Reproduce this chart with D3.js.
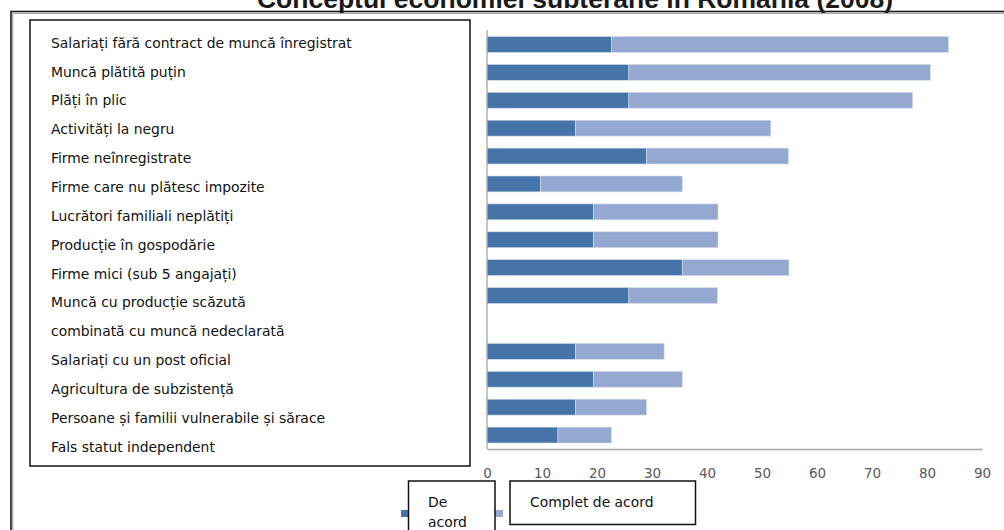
<!DOCTYPE html>
<html lang="ro">
<head>
  <meta charset="UTF-8">
  <title>Conceptul economiei subterane în România (2008)</title>
  <script src="https://d3js.org/d3.v7.min.js"></script>
  <style>
    body {
      margin: 0;
      overflow: hidden;
      background: white;
    }
  </style>
</head>
<body>
  <script>
    const width = 1004;
    const height = 530;

    // text lines shown in the box on the left
    const labelLines = [
      "Salariați fără contract de muncă înregistrat",
      "Muncă plătită puțin",
      "Plăți în plic",
      "Activități la negru",
      "Firme neînregistrate",
      "Firme care nu plătesc impozite",
      "Lucrători familiali neplătiți",
      "Producție în gospodărie",
      "Firme mici (sub 5 angajați)",
      "Muncă cu producție scăzută",
      "combinată cu muncă nedeclarată",
      "Salariați cu un post oficial",
      "Agricultura de subzistență",
      "Persoane și familii vulnerabile și sărace",
      "Fals statut independent"
    ];

    // one slot per bar; slot 11 is left empty in the original
    const categories = [
      "Salariați fără contract de muncă înregistrat",
      "Muncă plătită puțin",
      "Plăți în plic",
      "Activități la negru",
      "Firme neînregistrate",
      "Firme care nu plătesc impozite",
      "Lucrători familiali neplătiți",
      "Producție în gospodărie",
      "Firme mici (sub 5 angajați)",
      "Muncă cu producție scăzută combinată cu muncă nedeclarată",
      "",
      "Salariați cu un post oficial",
      "Agricultura de subzistență",
      "Persoane și familii vulnerabile și sărace",
      "Fals statut independent"
    ];

    const deAcord        = [22.6, 25.8, 25.8, 16.1, 29.0,  9.7, 19.4, 19.4, 35.5, 25.8, null, 16.1, 19.4, 16.1, 12.9];
    const completDeAcord = [61.3, 54.8, 51.6, 35.5, 25.8, 25.8, 22.6, 22.6, 19.4, 16.1, null, 16.1, 16.1, 12.9,  9.7];

    const seriesNames = ["De acord", "Complet de acord"];
    const xTicks = [0, 10, 20, 30, 40, 50, 60, 70, 80, 90];
    const title = "Conceptul economiei subterane în România (2008)";

    const colors = ["#4674a8", "#95a9d0"];
    const labelFont = "DejaVu Sans";

    const svg = d3.select("body")
      .append("svg")
      .attr("width", width)
      .attr("height", height)
      .style("font-family", labelFont);

    // outer frame
    svg.append("rect")
      .attr("x", 11).attr("y", 11.5)
      .attr("width", 1000).attr("height", 540)
      .attr("fill", "none")
      .attr("stroke", "#1a1a1a")
      .attr("stroke-width", 1.6);
    svg.append("path")
      .attr("d", "M12.8,560 V13.3 H1010")
      .attr("fill", "none")
      .attr("stroke", "#9a9a9a")
      .attr("stroke-width", 1);

    // title (cut at the top of the page, as in the slide)
    svg.append("text")
      .attr("x", 575)
      .attr("y", 8)
      .attr("text-anchor", "middle")
      .style("font-family", "Liberation Sans, Arial, sans-serif")
      .style("font-weight", "bold")
      .style("font-size", "26.5px")
      .attr("fill", "#1a1a1a")
      .text(title);

    const rows = categories.map((c, i) => ({
      cat: i,
      "De acord": deAcord[i] || 0,
      "Complet de acord": completDeAcord[i] || 0,
      empty: deAcord[i] == null
    }));

    const x = d3.scaleLinear().domain([0, 90]).range([487, 982]);
    const y = d3.scaleBand()
      .domain(d3.range(categories.length))
      .range([30.5, 449])
      .paddingInner(0.43)
      .paddingOuter(0.215);

    const stack = d3.stack().keys(seriesNames);
    const layers = stack(rows);

    svg.append("g")
      .selectAll("g")
      .data(layers)
      .join("g")
      .attr("fill", (d, i) => colors[i])
      .selectAll("rect")
      .data(d => d.filter(p => !p.data.empty))
      .join("rect")
      .attr("x", d => x(d[0]))
      .attr("y", d => y(d.data.cat))
      .attr("width", d => x(d[1]) - x(d[0]))
      .attr("height", y.bandwidth())
      .attr("stroke", "#d6deee")
      .attr("stroke-width", 0.6);

    // axes
    svg.append("line")
      .attr("x1", x(0)).attr("x2", x(0))
      .attr("y1", 30).attr("y2", 449)
      .attr("stroke", "#a6a6a6")
      .attr("stroke-width", 1.3);

    const xAxis = svg.append("g")
      .attr("transform", "translate(0,449)")
      .call(d3.axisBottom(x).tickValues(xTicks).tickSize(0).tickPadding(19));
    xAxis.select(".domain")
      .attr("stroke", "#a6a6a6")
      .attr("stroke-width", 1.3);
    xAxis.selectAll("text")
      .style("font-family", "DejaVu Sans")
      .style("font-size", "13.5px")
      .attr("fill", "#595959");

    // label box
    svg.append("rect")
      .attr("x", 30).attr("y", 20)
      .attr("width", 440).attr("height", 446)
      .attr("fill", "white")
      .attr("stroke", "#111")
      .attr("stroke-width", 1.5);

    const labels = svg.append("g")
      .selectAll("text")
      .data(labelLines)
      .join("text")
      .attr("x", 51)
      .attr("y", (d, i) => 47.7 + i * 28.85)
      .attr("fill", "#111")
      .style("font-size", "14px")
      .text(d => d);

    // fit the longest line to the width seen in the picture
    const longest = d3.max(labels.nodes(), n => n.getComputedTextLength());
    const fontSize = 14 * 301 / longest;
    labels.style("font-size", fontSize + "px");

    // legend
    const legend = svg.append("g");
    legend.append("rect")
      .attr("x", 401).attr("y", 510)
      .attr("width", 7).attr("height", 7)
      .attr("fill", colors[0]);
    legend.append("rect")
      .attr("x", 495).attr("y", 510)
      .attr("width", 8).attr("height", 7)
      .attr("fill", colors[1]);

    legend.append("rect")
      .attr("x", 408.5).attr("y", 481)
      .attr("width", 86.5).attr("height", 60)
      .attr("fill", "white")
      .attr("stroke", "#111")
      .attr("stroke-width", 1.5);
    legend.append("text")
      .attr("x", 428).attr("y", 507)
      .style("font-size", fontSize + "px")
      .attr("fill", "#111")
      .text("De");
    legend.append("text")
      .attr("x", 428).attr("y", 526.5)
      .style("font-size", fontSize + "px")
      .attr("fill", "#111")
      .text("acord");

    legend.append("rect")
      .attr("x", 510).attr("y", 481)
      .attr("width", 185.5).attr("height", 43.5)
      .attr("fill", "white")
      .attr("stroke", "#111")
      .attr("stroke-width", 1.5);
    legend.append("text")
      .attr("x", 530).attr("y", 507)
      .style("font-size", fontSize + "px")
      .attr("fill", "#111")
      .text(seriesNames[1]);
  </script>
</body>
</html>
